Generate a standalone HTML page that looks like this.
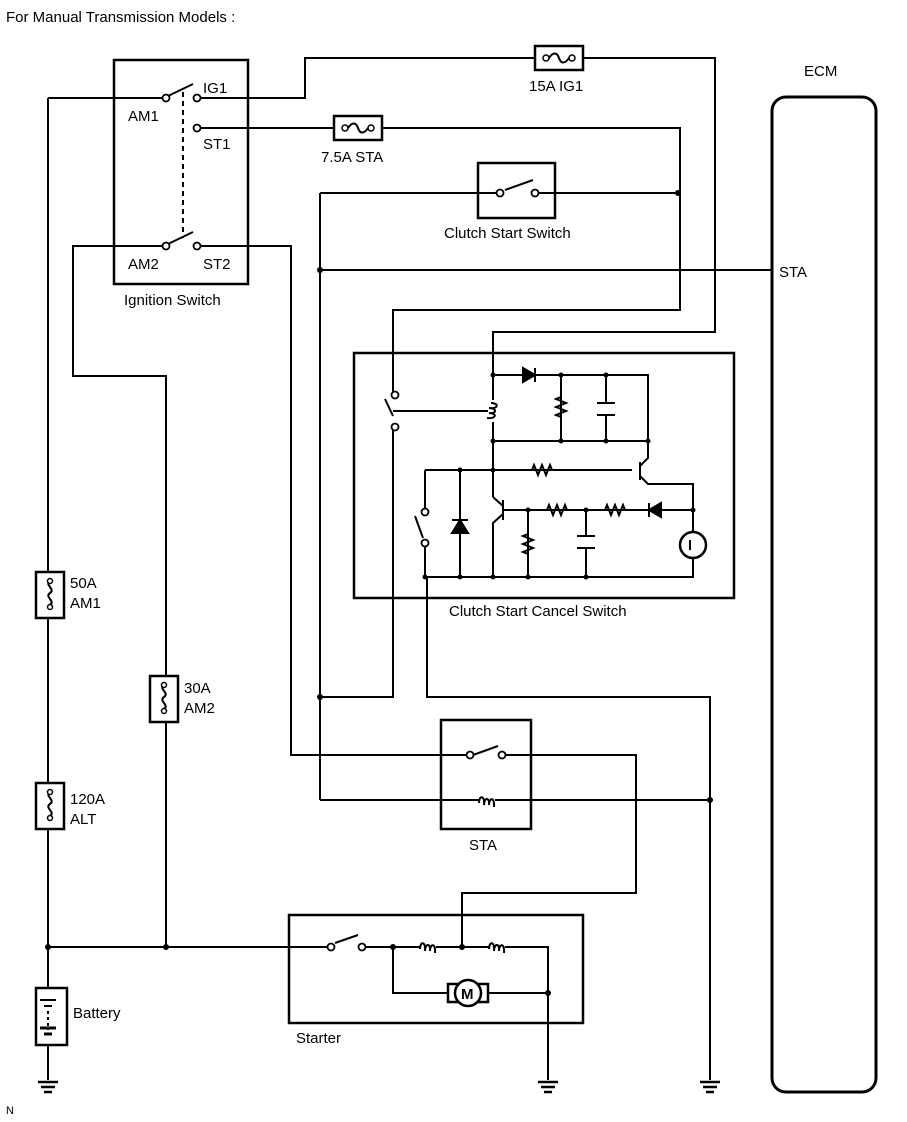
<!DOCTYPE html>
<html><head><style>body{margin:0;background:#fff}svg{display:block}text{font-family:"Liberation Sans",sans-serif;font-size:15px;fill:#000}</style></head>
<body>
<svg width="907" height="1122" viewBox="0 0 907 1122" xmlns="http://www.w3.org/2000/svg">
<defs>
<g id="fz"><rect x="-14" y="-23" width="28" height="46" fill="#fff" stroke="#000" stroke-width="2.5"/><path d="M0,-14 c-6,4 6,8 0,12 c-6,4 6,8 0,12" fill="none" stroke="#000" stroke-width="2"/><circle cx="0" cy="-14" r="2.5" fill="#fff" stroke="#000" stroke-width="1.5"/><circle cx="0" cy="12" r="2.5" fill="#fff" stroke="#000" stroke-width="1.5"/></g>
<g id="fh"><rect x="-24" y="-12" width="48" height="24" fill="#fff" stroke="#000" stroke-width="2.5"/><circle cx="-13" cy="0" r="3" fill="#fff" stroke="#000" stroke-width="1.5"/><circle cx="13" cy="0" r="3" fill="#fff" stroke="#000" stroke-width="1.5"/><path d="M-10,0 c4,-6 8,-6 10,0 c2,6 6,6 10,0" fill="none" stroke="#000" stroke-width="2"/></g>
<g id="coilh"><rect x="-8" y="-4" width="16" height="8" fill="#fff" stroke="none"/><path d="M-8,2 c0,-8 6,-8 5,2 c0,-8 6,-8 5,0 c0,-8 6,-8 5,2" fill="none" stroke="#000" stroke-width="2"/></g>
<g id="resh"><path d="M-14,0 l3,0 l2,-5 l4,10 l4,-10 l4,10 l4,-10 l2,5 l3,0" fill="none" stroke="#000" stroke-width="2"/></g>
<g id="resv"><path d="M0,-14 l0,3 l-5,2 l10,4 l-10,4 l10,4 l-10,4 l5,2 l0,3" fill="none" stroke="#000" stroke-width="2"/></g>
<g id="gnd"><path d="M-10,0 h20 M-7,5 h14 M-4,10 h8" stroke="#000" stroke-width="2.5"/></g>
</defs>
<g stroke="#000" stroke-width="2" fill="none">
<!-- ignition switch -->
<rect x="114" y="60" width="134" height="224" stroke-width="2.5"/>
<path d="M48,98 H163 M200,98 H305 V58 H715 V332 H493 V375"/>
<path d="M200,128 H680 V310 H393 V392"/>
<path d="M163,246 H73 V376 H166 V947"/>
<path d="M200,246 H291 V755 H467"/>
<path d="M168,96 L193,84 M168,244 L193,232"/>
<path d="M183,92 V238" stroke-dasharray="5,4"/>
<!-- clutch start switch -->
<rect x="478" y="163" width="77" height="55" stroke-width="2.5"/>
<path d="M320,193 H497 M538,193 H678 M320,193 V800 M320,270 H772 M505,190 L533,180"/>
<!-- CCS box -->
<rect x="354" y="353" width="380" height="245" stroke-width="2.5"/>
<path d="M393,430 V697 H320 M393,411 H488" />
<path d="M393,411 H488" stroke-dasharray="5,4"/>
<path d="M385,399 L393,416" />
<path d="M493,375 V400 M493,422 V497 M493,375 H648 V441 H493 M561,375 V441 M606,375 V403 M606,415 V441"/>
<path d="M597,403 H615 M597,415 H615 M577,536 H595 M577,548 H595"/>
<path d="M425,470 H632 M425,470 V509 M425,546 V577 M460,470 V577 M425,577 H693 V558 M415,516 L423,538"/>
<path d="M640,462 V480 M640,466 L648,458 V441 M640,476 L648,484 H693 V532"/>
<path d="M503,500 V520 M503,506 L493,497 M503,514 L493,523 V577 M503,510 H693"/>
<path d="M528,510 V577 M586,510 V536 M586,548 V577 M427,577 V697 H710 V1080"/>
<circle cx="693" cy="545" r="13" stroke-width="2.5"/>
<path d="M690,540 V550"/>
<!-- STA relay -->
<rect x="441" y="720" width="90" height="109" stroke-width="2.5"/>
<path d="M473,755 L498,746 M505,755 H636 V893 H462 V947 M320,800 H710"/>
<!-- left bus -->
<path d="M48,98 V1080 M48,947 H328 M365,947 H548 V1080 M393,947 V993 H448 M488,993 H548 M335,943 L358,935"/>
<rect x="289" y="915" width="294" height="108" stroke-width="2.5"/>
<!-- battery -->
<rect x="36" y="988" width="31" height="57" fill="#fff" stroke-width="2.5"/>
<path d="M40,1000 H56 M44,1006 H52 M48,1008 V1030" />
<path d="M48,1008 V1030" stroke="#fff" stroke-dasharray="3,3"/>
<path d="M40,1028 H56 M44,1034 H52" stroke-width="3"/>
<!-- ECM -->
<rect x="772" y="97" width="104" height="995" rx="14" stroke-width="3"/>
</g>
<!-- small symbols -->
<g fill="#fff" stroke="#000" stroke-width="1.8">
<circle cx="166" cy="98" r="3.5"/><circle cx="197" cy="98" r="3.5"/><circle cx="197" cy="128" r="3.5"/><circle cx="166" cy="246" r="3.5"/><circle cx="197" cy="246" r="3.5"/>
<circle cx="500" cy="193" r="3.5"/><circle cx="535" cy="193" r="3.5"/>
<circle cx="395" cy="395" r="3.5"/><circle cx="395" cy="427" r="3.5"/>
<circle cx="425" cy="512" r="3.5"/><circle cx="425" cy="543" r="3.5"/>
<circle cx="470" cy="755" r="3.5"/><circle cx="502" cy="755" r="3.5"/>
<circle cx="331" cy="947" r="3.5"/><circle cx="362" cy="947" r="3.5"/>
</g>
<use href="#fh" x="559" y="58"/><use href="#fh" x="358" y="128"/>
<use href="#fz" x="50" y="595"/><use href="#fz" x="164" y="699"/><use href="#fz" x="50" y="806"/>
<g transform="translate(493,411) rotate(90)"><use href="#coilh"/></g>
<use href="#coilh" x="487" y="801"/><use href="#coilh" x="428" y="947"/><use href="#coilh" x="497" y="947"/>
<g transform="translate(561,408)"><use href="#resv"/></g>
<use href="#resv" x="528" y="545"/>
<use href="#resh" x="543" y="470"/><use href="#resh" x="558" y="510"/><use href="#resh" x="616" y="510"/>
<rect x="529" y="462" width="0" height="0"/>
<g fill="#000" stroke="#000" stroke-width="2">
<path d="M523,368 L535,375 L523,382 Z M535,368 V382"/>
<path d="M661,503 L649,510 L661,517 Z M649,503 V517"/>
<path d="M452,533 L460,520 L468,533 Z M452,520 H468"/>
</g>
<!-- motor -->
<g stroke="#000" stroke-width="2.5" fill="#fff"><rect x="448" y="984" width="40" height="18"/><circle cx="468" cy="993" r="13"/></g>
<text x="461" y="999" style="font-weight:bold;font-size:15px">M</text>
<g fill="#000">
<circle cx="48" cy="947" r="3"/><circle cx="166" cy="947" r="3"/><circle cx="393" cy="947" r="3"/><circle cx="462" cy="947" r="3"/><circle cx="548" cy="993" r="3"/>
<circle cx="320" cy="270" r="3"/><circle cx="678" cy="193" r="3"/><circle cx="320" cy="697" r="3"/><circle cx="710" cy="800" r="3"/>
<circle cx="493" cy="375" r="2.5"/><circle cx="561" cy="375" r="2.5"/><circle cx="606" cy="375" r="2.5"/>
<circle cx="493" cy="441" r="2.5"/><circle cx="561" cy="441" r="2.5"/><circle cx="606" cy="441" r="2.5"/><circle cx="648" cy="441" r="2.5"/>
<circle cx="460" cy="470" r="2.5"/><circle cx="493" cy="470" r="2.5"/><circle cx="528" cy="510" r="2.5"/><circle cx="586" cy="510" r="2.5"/><circle cx="693" cy="510" r="2.5"/>
<circle cx="425" cy="577" r="2.5"/><circle cx="460" cy="577" r="2.5"/><circle cx="493" cy="577" r="2.5"/><circle cx="528" cy="577" r="2.5"/><circle cx="586" cy="577" r="2.5"/>
</g>
<use href="#gnd" x="48" y="1082"/><use href="#gnd" x="548" y="1082"/><use href="#gnd" x="710" y="1082"/>
<text x="6" y="22">For Manual Transmission Models :</text>
<text x="203" y="93">IG1</text><text x="128" y="121">AM1</text><text x="203" y="149">ST1</text>
<text x="128" y="269">AM2</text><text x="203" y="269">ST2</text>
<text x="124" y="305">Ignition Switch</text>
<text x="529" y="91">15A IG1</text><text x="321" y="162">7.5A STA</text>
<text x="444" y="238">Clutch Start Switch</text>
<text x="804" y="76">ECM</text><text x="779" y="277">STA</text>
<text x="449" y="616">Clutch Start Cancel Switch</text>
<text x="70" y="588">50A</text><text x="70" y="608">AM1</text>
<text x="184" y="693">30A</text><text x="184" y="713">AM2</text>
<text x="70" y="804">120A</text><text x="70" y="824">ALT</text>
<text x="469" y="850">STA</text>
<text x="73" y="1018">Battery</text><text x="296" y="1043">Starter</text>
<text x="6" y="1114" style="font-size:11px">N</text>
</svg>
</body></html>
